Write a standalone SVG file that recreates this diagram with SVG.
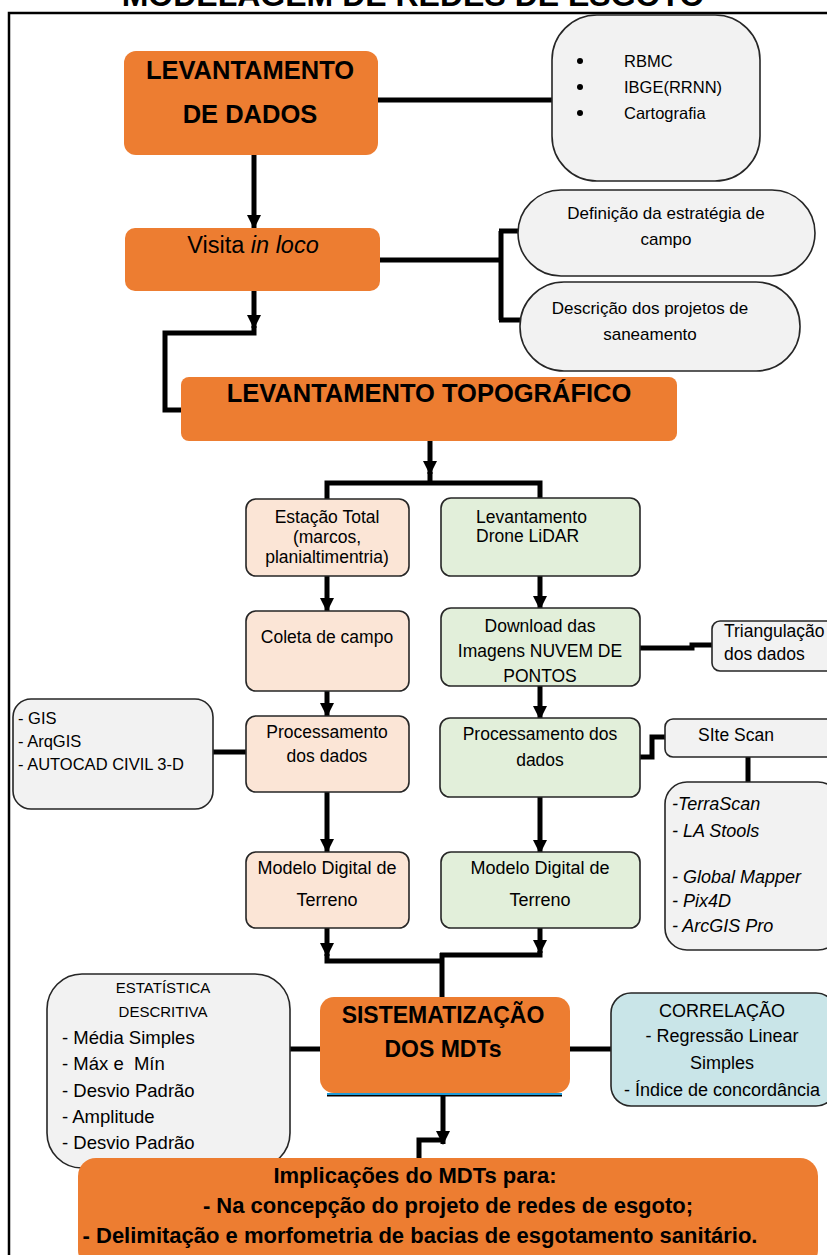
<svg xmlns="http://www.w3.org/2000/svg" width="827" height="1255" viewBox="0 0 827 1255">
<defs>
<style>
.or{fill:#ED7D31;}
.gy{fill:#F2F2F2;stroke:#262626;stroke-width:1.6;}
.pe{fill:#FBE5D6;stroke:#262626;stroke-width:1.6;}
.gr{fill:#E2EFDA;stroke:#262626;stroke-width:1.6;}
.bl{fill:#C9E5E8;stroke:#262626;stroke-width:1.6;}
.t{font-family:"Liberation Sans",Arial,sans-serif;fill:#000;}
.b{font-weight:bold;}
.c{text-anchor:middle;}
.i{font-style:italic;}
.ln{fill:none;stroke:#000;stroke-width:5;}
.ar{fill:none;stroke:#000;stroke-width:5;marker-end:url(#ah);}
</style>
<marker id="ah" markerUnits="userSpaceOnUse" markerWidth="14" markerHeight="14" refX="13" refY="7" orient="auto">
<path d="M0,0 L14,7 L0,14 z" fill="#000"/>
</marker>
</defs>
<rect width="827" height="1255" fill="#fff"/>
<path d="M9,1255 V13 H827" fill="none" stroke="#000" stroke-width="2.5"/>
<text class="t b c" x="413" y="6" font-size="32">MODELAGEM DE REDES DE ESGOTO</text>

<g id="connectors">
<path class="ln" d="M378,100 H552"/>
<path class="ar" d="M254,155 V228"/>
<path class="ln" d="M380,260 H501 M501,231 V320 M499,231 H520 M499,320 H522"/>
<path class="ar" d="M254,290 V328"/>
<path class="ln" d="M254,326 V333 H165 V410 H182"/>
<path class="ar" d="M430,441 V474"/>
<path class="ln" d="M430,472 V483 M327,499 V483 H540 V498"/>
<path class="ar" d="M327,576 V611"/>
<path class="ar" d="M540,576 V609"/>
<path class="ln" d="M640,648 H692 V645 H713"/>
<path class="ar" d="M327,691 V716"/>
<path class="ar" d="M540,686 V719"/>
<path class="ln" d="M247,752 H212"/>
<path class="ln" d="M640,757 H652 V737 H665"/>
<path class="ln" d="M748,757 V782"/>
<path class="ar" d="M327,792 V852"/>
<path class="ar" d="M540,797 V853"/>
<path class="ar" d="M327,928 V956"/>
<path class="ln" d="M327,954 V961 H442"/>
<path class="ar" d="M540,928 V953"/>
<path class="ln" d="M540,951 V955 H440 M442,953 V998"/>
<path class="ln" d="M290,1049 H320"/>
<path class="ln" d="M570,1049 H611"/>
<path class="ar" d="M443,1095 V1144"/>
<path class="ln" d="M443,1140 H419 V1159"/>
</g>

<g id="n-levantamento-dados">
<rect class="or" x="124" y="51" width="254" height="104" rx="12"/>
<text class="t b c" x="250" y="79" font-size="25.5">LEVANTAMENTO</text>
<text class="t b c" x="250" y="123" font-size="25.5">DE DADOS</text>
</g>
<g id="n-fontes">
<rect class="gy" x="552" y="15" width="208" height="166" rx="45"/>
<circle cx="580" cy="61" r="3"/>
<circle cx="580" cy="87" r="3"/>
<circle cx="580" cy="113" r="3"/>
<text class="t" x="624" y="67" font-size="16.5">RBMC</text>
<text class="t" x="624" y="93" font-size="16.5">IBGE(RRNN)</text>
<text class="t" x="624" y="119" font-size="16.5">Cartografia</text>
</g>
<g id="n-visita">
<rect class="or" x="125" y="228" width="255" height="63" rx="10"/>
<text class="t c" x="253" y="253" font-size="23.5">Visita <tspan class="i">in loco</tspan></text>
</g>
<g id="n-definicao">
<rect class="gy" x="518" y="190" width="297" height="86" rx="43"/>
<text class="t c" x="666" y="219" font-size="17">Definição da estratégia de</text>
<text class="t c" x="666" y="245" font-size="17">campo</text>
</g>
<g id="n-descricao">
<rect class="gy" x="520" y="282" width="280" height="89" rx="44"/>
<text class="t c" x="650" y="314" font-size="17">Descrição dos projetos de</text>
<text class="t c" x="650" y="340" font-size="17">saneamento</text>
</g>
<g id="n-topografico">
<rect class="or" x="181" y="377" width="496" height="64" rx="8"/>
<text class="t b c" x="429" y="402" font-size="25.5">LEVANTAMENTO TOPOGRÁFICO</text>
</g>
<g id="n-estacao">
<rect class="pe" x="246" y="499" width="163" height="77" rx="10"/>
<text class="t c" x="327" y="523" font-size="17.5">Estação Total</text>
<text class="t c" x="327" y="543" font-size="17.5">(marcos,</text>
<text class="t c" x="327" y="563" font-size="17.5">planialtimentria)</text>
</g>
<g id="n-drone">
<rect class="gr" x="441" y="498" width="199" height="78" rx="10"/>
<text class="t" x="476" y="523" font-size="17.5">Levantamento</text>
<text class="t" x="476" y="542" font-size="17.5">Drone LiDAR</text>
</g>
<g id="n-coleta">
<rect class="pe" x="246" y="611" width="163" height="80" rx="10"/>
<text class="t c" x="327" y="643" font-size="17.5">Coleta de campo</text>
</g>
<g id="n-download">
<rect class="gr" x="441" y="608" width="199" height="78" rx="10"/>
<text class="t c" x="540" y="632" font-size="17.5">Download das</text>
<text class="t c" x="540" y="657" font-size="17.5">Imagens NUVEM DE</text>
<text class="t c" x="540" y="682" font-size="17.5">PONTOS</text>
</g>
<g id="n-triangulacao">
<rect class="gy" x="712" y="621" width="130" height="50" rx="8"/>
<text class="t" x="724" y="637" font-size="17.5">Triangulação</text>
<text class="t" x="724" y="660" font-size="17.5">dos dados</text>
</g>
<g id="n-gis">
<rect class="gy" x="13" y="699" width="200" height="110" rx="18"/>
<text class="t" x="18" y="724" font-size="16.5">- GIS</text>
<text class="t" x="18" y="747" font-size="16.5">- ArqGIS</text>
<text class="t" x="18" y="770" font-size="16.5">- AUTOCAD CIVIL 3-D</text>
</g>
<g id="n-proc-esq">
<rect class="pe" x="246" y="716" width="163" height="76" rx="10"/>
<text class="t c" x="327" y="738" font-size="17.5">Processamento</text>
<text class="t c" x="327" y="762" font-size="17.5">dos dados</text>
</g>
<g id="n-proc-dir">
<rect class="gr" x="440" y="718" width="200" height="79" rx="10"/>
<text class="t c" x="540" y="740" font-size="17.5">Processamento dos</text>
<text class="t c" x="540" y="766" font-size="17.5">dados</text>
</g>
<g id="n-sitescan">
<rect class="gy" x="665" y="719" width="175" height="38" rx="8"/>
<text class="t" x="698" y="741" font-size="17.5">SIte Scan</text>
</g>
<g id="n-softwares">
<rect class="gy" x="665" y="782" width="175" height="168" rx="22"/>
<text class="t i" x="672" y="810" font-size="18">-TerraScan</text>
<text class="t i" x="672" y="837" font-size="18">- LA Stools</text>
<text class="t i" x="672" y="883" font-size="18">- Global Mapper</text>
<text class="t i" x="672" y="907" font-size="18">- Pix4D</text>
<text class="t i" x="672" y="932" font-size="18">- ArcGIS Pro</text>
</g>
<g id="n-mdt-esq">
<rect class="pe" x="246" y="852" width="163" height="76" rx="10"/>
<text class="t c" x="327" y="874" font-size="18">Modelo Digital de</text>
<text class="t c" x="327" y="906" font-size="18">Terreno</text>
</g>
<g id="n-mdt-dir">
<rect class="gr" x="441" y="852" width="199" height="76" rx="10"/>
<text class="t c" x="540" y="874" font-size="18">Modelo Digital de</text>
<text class="t c" x="540" y="906" font-size="18">Terreno</text>
</g>
<g id="n-estatistica">
<rect class="gy" x="47" y="974" width="243" height="194" rx="35"/>
<text class="t c" x="163" y="993" font-size="15">ESTATÍSTICA</text>
<text class="t c" x="163" y="1017" font-size="15">DESCRITIVA</text>
<text class="t" x="62" y="1044" font-size="18.5">- Média Simples</text>
<text class="t" x="62" y="1070" font-size="18.5" xml:space="preserve">- Máx e  Mín</text>
<text class="t" x="62" y="1097" font-size="18.5">- Desvio Padrão</text>
<text class="t" x="62" y="1123" font-size="18.5">- Amplitude</text>
<text class="t" x="62" y="1149" font-size="18.5">- Desvio Padrão</text>
</g>
<g id="n-sistematizacao">
<path d="M327,1095 H562" stroke="#000" stroke-width="3"/>
<path d="M327,1094 H562" stroke="#1F9BD7" stroke-width="2"/>
<rect class="or" x="320" y="997" width="250" height="96" rx="14"/>
<text class="t b c" x="443" y="1023" font-size="23">SISTEMATIZAÇÃO</text>
<text class="t b c" x="443" y="1057" font-size="23">DOS MDTs</text>
</g>
<g id="n-correlacao">
<rect class="bl" x="611" y="993" width="225" height="113" rx="20"/>
<text class="t c" x="722" y="1017" font-size="18">CORRELAÇÃO</text>
<text class="t c" x="722" y="1042" font-size="18">- Regressão Linear</text>
<text class="t c" x="722" y="1069" font-size="18">Simples</text>
<text class="t c" x="722" y="1096" font-size="18">- Índice de concordância</text>
</g>
<g id="n-implicacoes">
<rect class="or" x="78" y="1158" width="740" height="110" rx="18"/>
<text class="t b c" x="415" y="1183" font-size="22">Implicações do MDTs para:</text>
<text class="t b c" x="448" y="1213" font-size="22">- Na concepção do projeto de redes de esgoto;</text>
<text class="t b c" x="420" y="1243" font-size="22">- Delimitação e morfometria de bacias de esgotamento sanitário.</text>
</g>
</svg>
